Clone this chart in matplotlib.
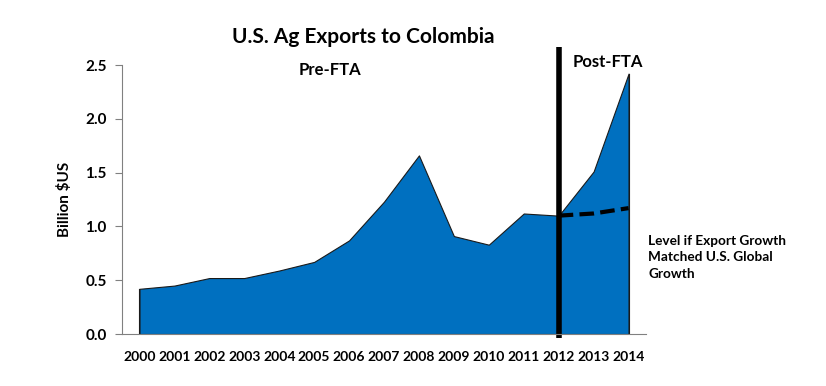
import matplotlib.pyplot as plt

plt.rcParams["font.family"] = ["Lato", "DejaVu Sans"]

years = [2000, 2001, 2002, 2003, 2004, 2005, 2006, 2007, 2008, 2009, 2010, 2011, 2012, 2013, 2014]
exports = [0.42, 0.45, 0.52, 0.52, 0.59, 0.67, 0.87, 1.23, 1.66, 0.91, 0.83, 1.12, 1.10, 1.51, 2.42]
global_years = [2012, 2013, 2014]
global_level = [1.10, 1.12, 1.17]
fta_year = 2012

fig = plt.figure(figsize=(8.26, 3.86), dpi=100)
ax = fig.add_axes([0.1477, 0.1347, 0.6344, 0.6969])

ax.fill_between(years, exports, 0, color="#0070C0", edgecolor="#1a1a1a", linewidth=0.8)
ax.plot([years[0], years[0]], [0, exports[0]], color="#1a1a1a", lw=0.8)
ax.plot([years[-1], years[-1]], [0, exports[-1]], color="#1a1a1a", lw=0.8)
ax.plot(global_years, global_level, color="black", lw=3, ls=(0, (3.5, 1.5)))
ax.plot([fta_year, fta_year], [-0.04, 2.67], color="black", lw=4, clip_on=False, solid_capstyle="butt")

ax.set_xlim(1999.5, 2014.5)
ax.set_ylim(0, 2.5)
ax.set_xticks(years)
ax.set_xticklabels([str(y) for y in years], fontsize=10, fontweight="bold")
ax.tick_params(axis="x", length=0, pad=12)
ax.set_yticks([0, 0.5, 1.0, 1.5, 2.0, 2.5])
ax.set_yticklabels(["0.0", "0.5", "1.0", "1.5", "2.0", "2.5"], fontsize=11, fontweight="bold")
ax.tick_params(axis="y", length=5, color="#808080", pad=6)
for s in ["top", "right"]:
    ax.spines[s].set_visible(False)
for s in ["left", "bottom"]:
    ax.spines[s].set_color("#808080")
ax.set_ylabel("Billion $US", fontsize=11, fontweight="bold", labelpad=20)
ax.yaxis.set_label_coords(-0.095, 0.5)

fig.text(0.44, 0.905, "U.S. Ag Exports to Colombia", ha="center", va="center", fontsize=15, fontweight="bold")
ax.text(2005.45, 2.45, "Pre-FTA", ha="center", va="center", fontsize=12, fontweight="bold")
ax.text(2013.4, 2.53, "Post-FTA", ha="center", va="center", fontsize=12, fontweight="bold", clip_on=False)
fig.text(0.785, 0.334, "Level if Export Growth\nMatched U.S. Global\nGrowth", ha="left", va="center",
         fontsize=9.8, fontweight="bold", linespacing=1.45)

fig.savefig("out.png", dpi=100)
